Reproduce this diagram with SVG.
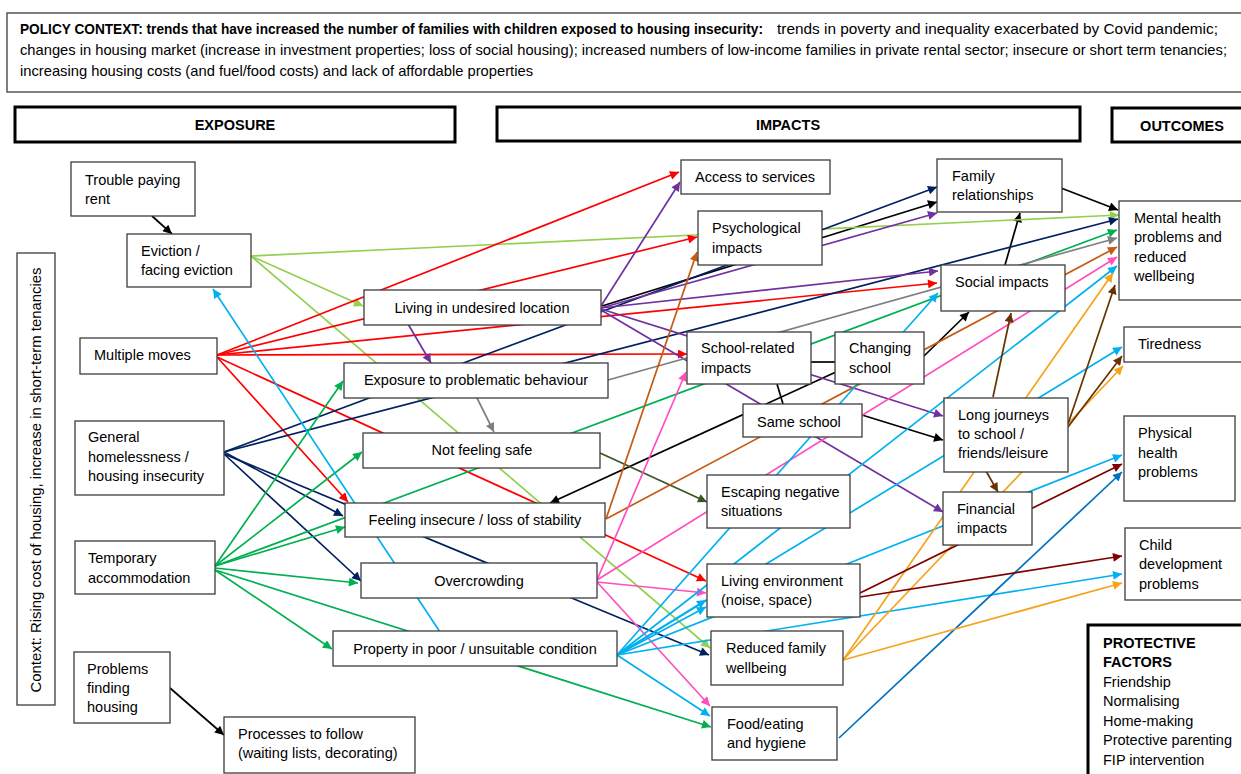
<svg xmlns="http://www.w3.org/2000/svg" width="1241" height="774" viewBox="0 0 1241 774">
<style>
text{font-family:"Liberation Sans",Arial,sans-serif;font-size:14.5px;fill:#000}
.b{font-weight:bold}
.node{fill:#fff;stroke:#3c3c3c;stroke-width:1.3}
.hdr{fill:#fff;stroke:#000;stroke-width:3}
.c{fill:none;stroke-width:1.7}
.red{stroke:#FF0000;marker-end:url(#a-red)}
.lgreen{stroke:#92D050;marker-end:url(#a-lgreen)}
.navy{stroke:#002060;marker-end:url(#a-navy)}
.purple{stroke:#7030A0;marker-end:url(#a-purple)}
.gray{stroke:#7F7F7F;marker-end:url(#a-gray)}
.green{stroke:#00B050;marker-end:url(#a-green)}
.lblue{stroke:#00B0F0;marker-end:url(#a-lblue)}
.pink{stroke:#FF4FBF;marker-end:url(#a-pink)}
.orange{stroke:#C55A11;marker-end:url(#a-orange)}
.black{stroke:#000;marker-end:url(#a-black)}
.olive{stroke:#375623;marker-end:url(#a-olive)}
.brown{stroke:#663300;marker-end:url(#a-brown)}
.amber{stroke:#F5A31B;marker-end:url(#a-amber)}
.dred{stroke:#800000;marker-end:url(#a-dred)}
.mblue{stroke:#0070C0;marker-end:url(#a-mblue)}
.plain{marker-end:none}
</style>
<defs>
<marker id="a-red" viewBox="0 0 10 10" refX="10" refY="5" markerUnits="userSpaceOnUse" markerWidth="11" markerHeight="9" orient="auto"><path d="M0,0L10,5L0,10z" fill="#FF0000"/></marker>
<marker id="a-lgreen" viewBox="0 0 10 10" refX="10" refY="5" markerUnits="userSpaceOnUse" markerWidth="11" markerHeight="9" orient="auto"><path d="M0,0L10,5L0,10z" fill="#92D050"/></marker>
<marker id="a-navy" viewBox="0 0 10 10" refX="10" refY="5" markerUnits="userSpaceOnUse" markerWidth="11" markerHeight="9" orient="auto"><path d="M0,0L10,5L0,10z" fill="#002060"/></marker>
<marker id="a-purple" viewBox="0 0 10 10" refX="10" refY="5" markerUnits="userSpaceOnUse" markerWidth="11" markerHeight="9" orient="auto"><path d="M0,0L10,5L0,10z" fill="#7030A0"/></marker>
<marker id="a-gray" viewBox="0 0 10 10" refX="10" refY="5" markerUnits="userSpaceOnUse" markerWidth="11" markerHeight="9" orient="auto"><path d="M0,0L10,5L0,10z" fill="#7F7F7F"/></marker>
<marker id="a-green" viewBox="0 0 10 10" refX="10" refY="5" markerUnits="userSpaceOnUse" markerWidth="11" markerHeight="9" orient="auto"><path d="M0,0L10,5L0,10z" fill="#00B050"/></marker>
<marker id="a-lblue" viewBox="0 0 10 10" refX="10" refY="5" markerUnits="userSpaceOnUse" markerWidth="11" markerHeight="9" orient="auto"><path d="M0,0L10,5L0,10z" fill="#00B0F0"/></marker>
<marker id="a-pink" viewBox="0 0 10 10" refX="10" refY="5" markerUnits="userSpaceOnUse" markerWidth="11" markerHeight="9" orient="auto"><path d="M0,0L10,5L0,10z" fill="#FF4FBF"/></marker>
<marker id="a-orange" viewBox="0 0 10 10" refX="10" refY="5" markerUnits="userSpaceOnUse" markerWidth="11" markerHeight="9" orient="auto"><path d="M0,0L10,5L0,10z" fill="#C55A11"/></marker>
<marker id="a-black" viewBox="0 0 10 10" refX="10" refY="5" markerUnits="userSpaceOnUse" markerWidth="11" markerHeight="9" orient="auto"><path d="M0,0L10,5L0,10z" fill="#000"/></marker>
<marker id="a-olive" viewBox="0 0 10 10" refX="10" refY="5" markerUnits="userSpaceOnUse" markerWidth="11" markerHeight="9" orient="auto"><path d="M0,0L10,5L0,10z" fill="#375623"/></marker>
<marker id="a-brown" viewBox="0 0 10 10" refX="10" refY="5" markerUnits="userSpaceOnUse" markerWidth="11" markerHeight="9" orient="auto"><path d="M0,0L10,5L0,10z" fill="#663300"/></marker>
<marker id="a-amber" viewBox="0 0 10 10" refX="10" refY="5" markerUnits="userSpaceOnUse" markerWidth="11" markerHeight="9" orient="auto"><path d="M0,0L10,5L0,10z" fill="#F5A31B"/></marker>
<marker id="a-dred" viewBox="0 0 10 10" refX="10" refY="5" markerUnits="userSpaceOnUse" markerWidth="11" markerHeight="9" orient="auto"><path d="M0,0L10,5L0,10z" fill="#800000"/></marker>
<marker id="a-mblue" viewBox="0 0 10 10" refX="10" refY="5" markerUnits="userSpaceOnUse" markerWidth="11" markerHeight="9" orient="auto"><path d="M0,0L10,5L0,10z" fill="#0070C0"/></marker>
</defs>
<rect width="1241" height="774" fill="#fff"/>

<g id="policy-context">
<rect x="7" y="13" width="1240" height="79" fill="#fff" stroke="#555" stroke-width="1.5"/>
<text class="b" x="20" y="34" textLength="743" lengthAdjust="spacingAndGlyphs">POLICY CONTEXT: trends that have increased the number of families with children exposed to housing insecurity:</text>
<text x="777" y="34" textLength="441" lengthAdjust="spacingAndGlyphs">trends in poverty and inequality exacerbated by Covid pandemic;</text>
<text x="20" y="55" textLength="1207" lengthAdjust="spacingAndGlyphs">changes in housing market (increase in investment properties; loss of social housing); increased numbers of low-income families in private rental sector; insecure or short term tenancies;</text>
<text x="20" y="76" textLength="513" lengthAdjust="spacingAndGlyphs">increasing housing costs (and fuel/food costs) and lack of affordable properties</text>
</g>

<g id="header-exposure"><rect class="hdr" x="15" y="107" width="440" height="35"/><text class="b" x="235" y="130" text-anchor="middle">EXPOSURE</text></g>
<g id="header-impacts"><rect class="hdr" x="497" y="107" width="583" height="34"/><text class="b" x="788" y="130" text-anchor="middle">IMPACTS</text></g>
<g id="header-outcomes"><rect class="hdr" x="1112" y="108" width="140" height="34"/><text class="b" x="1182" y="131" text-anchor="middle">OUTCOMES</text></g>

<g id="context-side"><rect class="node" x="17" y="253" width="38" height="452"/><text transform="translate(41,480) rotate(-90)" text-anchor="middle" textLength="425" lengthAdjust="spacingAndGlyphs">Context: Rising cost of housing, increase in short-term tenancies</text></g>

<g id="connectors">
<line class="c black" x1="152" y1="216" x2="172" y2="234"/>
<line class="c black" x1="170" y1="688" x2="224" y2="735"/>
<line class="c black" x1="1061" y1="188" x2="1118" y2="210"/>
<line class="c black" x1="1005" y1="265" x2="1020" y2="213"/>
<line class="c black" x1="924" y1="356" x2="969" y2="312"/>
<line class="c black plain" x1="811" y1="362" x2="835" y2="362"/>
<line class="c black plain" x1="777" y1="384" x2="783" y2="404"/>
<line class="c black" x1="862" y1="415" x2="943" y2="440"/>
<line class="c black" x1="836" y1="372" x2="550" y2="503"/>
<line class="c black" x1="602" y1="306" x2="937" y2="202"/>

<line class="c lgreen" x1="251" y1="256" x2="1119" y2="215"/>
<line class="c lgreen" x1="251" y1="256" x2="363" y2="306"/>
<line class="c lgreen" x1="251" y1="256" x2="710" y2="648"/>

<line class="c red" x1="217" y1="355" x2="679" y2="172"/>
<line class="c red" x1="217" y1="355" x2="697" y2="237"/>
<line class="c red" x1="217" y1="355" x2="937" y2="283"/>
<line class="c red" x1="217" y1="355" x2="687" y2="354"/>
<line class="c red" x1="217" y1="357" x2="348" y2="502"/>
<line class="c red" x1="217" y1="357" x2="706" y2="581"/>

<line class="c navy" x1="224" y1="452" x2="937" y2="187"/>
<line class="c navy" x1="224" y1="452" x2="1118" y2="219"/>
<line class="c navy" x1="224" y1="452" x2="343" y2="516"/>
<line class="c navy" x1="224" y1="454" x2="361" y2="581"/>
<line class="c navy" x1="224" y1="454" x2="709" y2="655"/>

<line class="c green" x1="215" y1="566" x2="343" y2="381"/>
<line class="c green" x1="215" y1="566" x2="362" y2="452"/>
<line class="c green" x1="215" y1="566" x2="345" y2="527"/>
<line class="c green" x1="215" y1="566" x2="1117" y2="230"/>
<line class="c green" x1="215" y1="568" x2="358" y2="583"/>
<line class="c green" x1="215" y1="570" x2="332" y2="649"/>
<line class="c green" x1="215" y1="570" x2="711" y2="727"/>

<line class="c purple" x1="601" y1="306" x2="680" y2="182"/>
<line class="c purple" x1="601" y1="308" x2="937" y2="213"/>
<line class="c purple" x1="601" y1="308" x2="938" y2="271"/>
<line class="c purple" x1="601" y1="309" x2="943" y2="416"/>
<line class="c purple" x1="601" y1="310" x2="943" y2="512"/>
<line class="c purple" x1="408" y1="324" x2="431" y2="363"/>

<line class="c gray" x1="608" y1="380" x2="1117" y2="238"/>
<line class="c gray" x1="477" y1="398" x2="494" y2="432"/>

<line class="c olive" x1="600" y1="453" x2="707" y2="502"/>

<line class="c orange" x1="606" y1="519" x2="697" y2="252"/>
<line class="c orange" x1="606" y1="519" x2="1117" y2="247"/>

<line class="c pink" x1="597" y1="580" x2="686" y2="372"/>
<line class="c pink" x1="597" y1="580" x2="1117" y2="257"/>
<line class="c pink" x1="597" y1="582" x2="706" y2="593"/>
<line class="c pink" x1="597" y1="582" x2="710" y2="706"/>

<line class="c lblue" x1="440" y1="632" x2="213" y2="289"/>
<line class="c lblue" x1="617" y1="655" x2="938" y2="293"/>
<line class="c lblue" x1="617" y1="655" x2="1117" y2="266"/>
<line class="c lblue" x1="617" y1="655" x2="1122" y2="347"/>
<line class="c lblue" x1="617" y1="655" x2="1122" y2="455"/>
<line class="c lblue" x1="617" y1="655" x2="1122" y2="574"/>
<line class="c lblue" x1="617" y1="655" x2="706" y2="600"/>
<line class="c lblue" x1="617" y1="655" x2="706" y2="607"/>
<line class="c lblue" x1="617" y1="655" x2="710" y2="716"/>

<line class="c mblue" x1="839" y1="738" x2="1122" y2="472"/>

<line class="c amber" x1="843" y1="660" x2="1113" y2="273"/>
<line class="c amber" x1="843" y1="660" x2="1123" y2="366"/>
<line class="c amber" x1="843" y1="660" x2="1122" y2="583"/>

<line class="c dred" x1="860" y1="593" x2="1122" y2="464"/>
<line class="c dred" x1="860" y1="597" x2="1122" y2="556"/>

<line class="c brown" x1="993" y1="397" x2="1011" y2="313"/>
<line class="c brown" x1="1068" y1="424" x2="1115" y2="285"/>
<line class="c brown" x1="1068" y1="427" x2="1122" y2="356"/>
<line class="c brown" x1="986" y1="471" x2="998" y2="492"/>
</g>

<g id="trouble-paying-rent"><rect class="node" x="71" y="162" width="124" height="54"/><text x="85" y="185">Trouble paying</text><text x="85" y="204">rent</text></g>
<g id="eviction"><rect class="node" x="127" y="234" width="124" height="53"/><text x="141" y="256">Eviction /</text><text x="141" y="275">facing eviction</text></g>
<g id="multiple-moves"><rect class="node" x="80" y="338" width="137" height="36"/><text x="94" y="360">Multiple moves</text></g>
<g id="general-homelessness"><rect class="node" x="75" y="421" width="149" height="74"/><text x="88" y="442">General</text><text x="88" y="462">homelessness /</text><text x="88" y="481">housing insecurity</text></g>
<g id="temporary-accommodation"><rect class="node" x="75" y="541" width="140" height="53"/><text x="88" y="563">Temporary</text><text x="88" y="583">accommodation</text></g>
<g id="problems-finding-housing"><rect class="node" x="74" y="652" width="96" height="71"/><text x="87" y="674">Problems</text><text x="87" y="693">finding</text><text x="87" y="712">housing</text></g>
<g id="processes-to-follow"><rect class="node" x="224" y="717" width="191" height="56"/><text x="238" y="739">Processes to follow</text><text x="238" y="758">(waiting lists, decorating)</text></g>

<g id="living-undesired-location"><rect class="node" x="364" y="290" width="237" height="35"/><text x="482" y="313" text-anchor="middle">Living in undesired location</text></g>
<g id="exposure-problematic-behaviour"><rect class="node" x="344" y="363" width="264" height="35"/><text x="476" y="385" text-anchor="middle">Exposure to problematic behaviour</text></g>
<g id="not-feeling-safe"><rect class="node" x="363" y="433" width="237" height="35"/><text x="482" y="455" text-anchor="middle">Not feeling safe</text></g>
<g id="feeling-insecure"><rect class="node" x="345" y="503" width="260" height="34"/><text x="475" y="525" text-anchor="middle">Feeling insecure / loss of stability</text></g>
<g id="overcrowding"><rect class="node" x="361" y="563" width="236" height="35"/><text x="479" y="586" text-anchor="middle">Overcrowding</text></g>
<g id="property-poor-condition"><rect class="node" x="333" y="631" width="284" height="35"/><text x="475" y="654" text-anchor="middle">Property in poor / unsuitable condition</text></g>

<g id="access-to-services"><rect class="node" x="681" y="160" width="149" height="34"/><text x="695" y="182">Access to services</text></g>
<g id="psychological-impacts"><rect class="node" x="698" y="211" width="124" height="54"/><text x="712" y="233">Psychological</text><text x="712" y="253">impacts</text></g>
<g id="school-related-impacts"><rect class="node" x="687" y="332" width="124" height="52"/><text x="701" y="353">School-related</text><text x="701" y="373">impacts</text></g>
<g id="changing-school"><rect class="node" x="835" y="332" width="89" height="52"/><text x="849" y="353">Changing</text><text x="849" y="373">school</text></g>
<g id="same-school"><rect class="node" x="743" y="404" width="119" height="33"/><text x="757" y="427">Same school</text></g>
<g id="escaping-negative-situations"><rect class="node" x="707" y="475" width="143" height="53"/><text x="721" y="497">Escaping negative</text><text x="721" y="516">situations</text></g>
<g id="living-environment"><rect class="node" x="707" y="564" width="153" height="53"/><text x="721" y="586">Living environment</text><text x="721" y="605">(noise, space)</text></g>
<g id="reduced-family-wellbeing"><rect class="node" x="711" y="631" width="132" height="54"/><text x="726" y="653">Reduced family</text><text x="726" y="673">wellbeing</text></g>
<g id="food-eating-hygiene"><rect class="node" x="712" y="707" width="125" height="53"/><text x="727" y="729">Food/eating</text><text x="727" y="748">and hygiene</text></g>
<g id="family-relationships"><rect class="node" x="937" y="159" width="125" height="53"/><text x="952" y="181">Family</text><text x="952" y="200">relationships</text></g>
<g id="social-impacts"><rect class="node" x="941" y="265" width="124" height="46"/><text x="955" y="287">Social impacts</text></g>
<g id="long-journeys"><rect class="node" x="944" y="398" width="124" height="74"/><text x="958" y="420">Long journeys</text><text x="958" y="439">to school /</text><text x="958" y="458">friends/leisure</text></g>
<g id="financial-impacts"><rect class="node" x="943" y="492" width="89" height="53"/><text x="957" y="514">Financial</text><text x="957" y="533">impacts</text></g>

<g id="mental-health"><rect class="node" x="1119" y="201" width="130" height="99"/><text x="1134" y="223">Mental health</text><text x="1134" y="242">problems and</text><text x="1134" y="262">reduced</text><text x="1134" y="281">wellbeing</text></g>
<g id="tiredness"><rect class="node" x="1124" y="327" width="125" height="35"/><text x="1138" y="349">Tiredness</text></g>
<g id="physical-health"><rect class="node" x="1124" y="416" width="111" height="85"/><text x="1138" y="438">Physical</text><text x="1138" y="458">health</text><text x="1138" y="477">problems</text></g>
<g id="child-development"><rect class="node" x="1125" y="528" width="124" height="72"/><text x="1139" y="550">Child</text><text x="1139" y="569">development</text><text x="1139" y="589">problems</text></g>

<g id="protective-factors"><rect class="hdr" x="1088" y="625" width="160" height="160"/><text class="b" x="1103" y="648">PROTECTIVE</text><text class="b" x="1103" y="667">FACTORS</text><text x="1103" y="687">Friendship</text><text x="1103" y="706">Normalising</text><text x="1103" y="726">Home-making</text><text x="1103" y="745">Protective parenting</text><text x="1103" y="765">FIP intervention</text></g>
</svg>
